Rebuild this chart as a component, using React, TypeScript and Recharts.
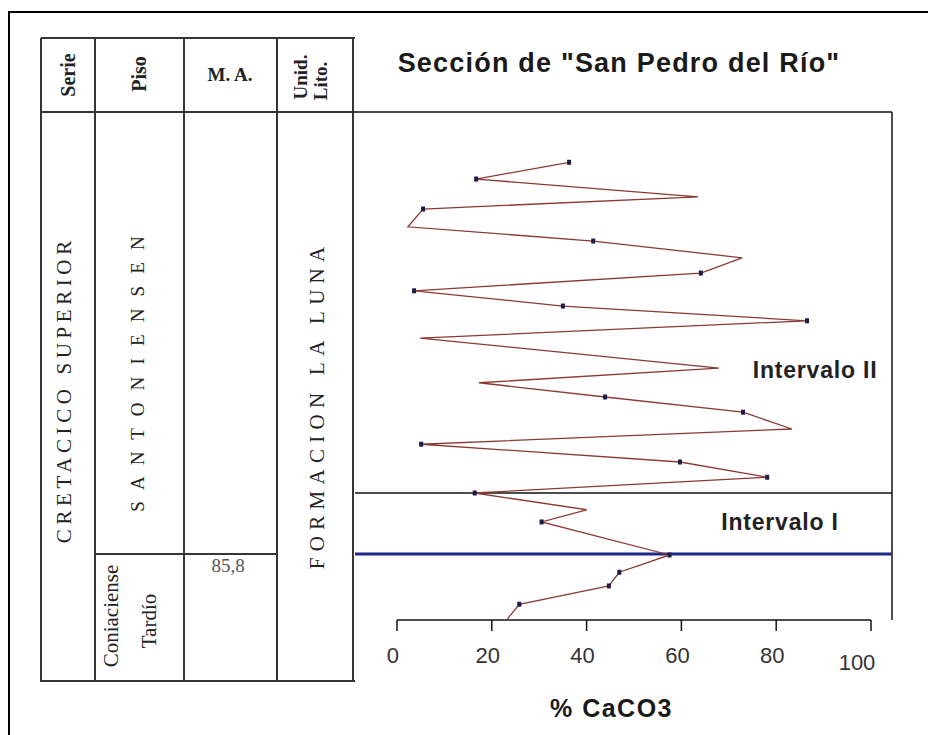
import React from 'react';
import { LineChart, Line, XAxis, YAxis, ReferenceLine, ReferenceDot, Label } from 'recharts';

// nivel estratigráfico (0 = base de la sección, 100 = tope del recuadro)
const nivel = [90.1, 86.8, 83.3, 80.9, 77.4, 74.6, 71.3, 68.3, 64.8, 61.8, 58.9, 55.5, 49.6, 46.7,
    43.9, 40.9, 37.6, 34.6, 31.1, 28.1, 25.0, 21.7, 19.3, 12.8, 9.4, 6.7, 3.1, 0.2];
// % CaCO3 de cada muestra
const caco3 = [36.3, 16.7, 63.5, 5.5, 2.3, 41.4, 72.8, 64.1, 3.6, 35.0, 86.5, 4.9, 67.9, 17.3,
    43.9, 73.0, 83.3, 5.1, 59.7, 78.1, 16.4, 40.0, 30.5, 57.5, 46.9, 44.7, 25.8, 23.3];
// muestras con marcador
const marca = [true, true, false, true, false, true, false, true, true, true, true, false, false, false,
    true, true, false, true, true, true, true, false, true, true, true, true, true, false];

const ticksX = [0, 20, 40, 60, 80, 100];
const limiteIntervalos = 25;
const limiteConiaciense = 13;

const datos = nivel.map((n, i) => ({ nivel: n, caco3: caco3[i], marca: marca[i] }));

const SANS = '"Liberation Sans", Arial, sans-serif';
const SERIF = '"Liberation Serif", "Times New Roman", serif';
const LINEA = '#353535';

function Rot({ cx, cy, ls = 0, style, children }: any) {
    return (
        <div style={{
            position: 'absolute', left: cx, top: cy, whiteSpace: 'nowrap', lineHeight: 1,
            transform: 'translate(-50%,-50%) rotate(-90deg)', fontFamily: SERIF, color: '#222',
            letterSpacing: ls, paddingLeft: ls, ...style
        }}>
            {children}
        </div>
    );
}

function Linea({ x, y, w, h, color = LINEA }: any) {
    return <div style={{ position: 'absolute', left: x, top: y, width: w, height: h, background: color }} />;
}

function TickX(props: any) {
    const { x, y, payload } = props;
    const es100 = payload.value === 100;
    return (
        <text x={x + (es100 ? -14 : -4)} y={y + (es100 ? 37 : 30)} textAnchor="middle"
            fontFamily={SANS} fontSize={22} fill="#333">
            {payload.value}
        </text>
    );
}

function Marcador(props: any) {
    const { cx, cy, payload, index } = props;
    if (!payload.marca) return <g key={'m' + index} />;
    return <rect key={'m' + index} x={cx - 2} y={cy - 2.5} width={4} height={5} fill="#1c1c4a" />;
}

export default function App() {
    return (
        <div style={{ position: 'absolute', left: 0, top: 0, width: 928, height: 735, background: '#fff', overflow: 'hidden' }}>
            {/* marco exterior */}
            <div style={{ position: 'absolute', left: 8, top: 11, width: 960, height: 760, borderLeft: '2.5px solid #000', borderTop: '2.5px solid #000' }} />

            {/* columna estratigráfica */}
            {[41, 95, 184, 277, 353].map(x => <Linea key={x} x={x - 1} y={38} w={2} h={644} />)}
            <Linea x={41} y={37} w={314} h={2} />
            <Linea x={41} y={111} w={314} h={2} />
            <Linea x={95} y={553} w={183} h={2} />
            <Linea x={41} y={680} w={314} h={2} />

            <Rot cx={68} cy={75} style={{ fontSize: 20, fontWeight: 'bold' }}>Serie</Rot>
            <Rot cx={139} cy={74} style={{ fontSize: 20, fontWeight: 'bold' }}>Piso</Rot>
            <div style={{ position: 'absolute', left: 230, top: 75, transform: 'translate(-50%,-50%)', fontFamily: SERIF, fontWeight: 'bold', fontSize: 19, whiteSpace: 'nowrap', color: '#222' }}>M. A.</div>
            <Rot cx={300} cy={77} style={{ fontSize: 19, fontWeight: 'bold' }}>Unid.</Rot>
            <Rot cx={320} cy={81} style={{ fontSize: 19, fontWeight: 'bold' }}>Lito.</Rot>

            <Rot cx={64} cy={392} ls={4.6} style={{ fontSize: 21 }}>CRETACICO SUPERIOR</Rot>
            <Rot cx={137} cy={374} ls={3.7} style={{ fontSize: 19 }}>S A N T O N I E N S E N</Rot>
            <Rot cx={317} cy={408} ls={6.3} style={{ fontSize: 21 }}>FORMACION LA LUNA</Rot>
            <Rot cx={111} cy={616} style={{ fontSize: 21 }}>Coniaciense</Rot>
            <Rot cx={149} cy={621} style={{ fontSize: 21 }}>Tardío</Rot>
            <div style={{ position: 'absolute', left: 228, top: 566, transform: 'translate(-50%,-50%)', fontFamily: SERIF, fontSize: 19, color: '#555' }}>85,8</div>

            <div style={{ position: 'absolute', left: 619, top: 50, transform: 'translateX(-50%)', fontFamily: SANS, fontWeight: 'bold', fontSize: 27, lineHeight: '27px', letterSpacing: 1.2, whiteSpace: 'nowrap', color: '#1a1a1a' }}>
                Sección de "San Pedro del Río"
            </div>

            <div style={{ position: 'absolute', left: 0, top: 0 }}>
                <LineChart width={928} height={735} data={datos} layout="vertical"
                    margin={{ top: 112, right: 36, bottom: 15, left: 355 }}>
                    <XAxis type="number" domain={[-8.86, 104.43]} ticks={ticksX} interval={0}
                        axisLine={false} tickLine={{ stroke: '#111', strokeWidth: 1.5 }} tickSize={11}
                        tickMargin={2} height={100} tick={<TickX />}>
                        <Label content={({ viewBox }: any) => (
                            <text x={viewBox.x + viewBox.width / 2 - 12} y={viewBox.y + 97} textAnchor="middle"
                                fontFamily={SANS} fontWeight="bold" fontSize={25} letterSpacing={1.5} fill="#1a1a1a">
                                % CaCO3
                            </text>
                        )} />
                    </XAxis>
                    <YAxis type="number" dataKey="nivel" domain={[0, 100]} reversed hide />

                    <ReferenceLine y={100} stroke="#111" strokeWidth={1.5} />
                    <ReferenceLine x={104.43} stroke="#111" strokeWidth={1.5} />
                    <ReferenceLine y={limiteIntervalos} stroke="#111" strokeWidth={1.5} />
                    <ReferenceLine y={limiteConiaciense} stroke="#1f2a8a" strokeWidth={3} />
                    <ReferenceLine segment={[{ x: 0, y: 0 }, { x: 100, y: 0 }]} stroke="#111" strokeWidth={1.5} />

                    <ReferenceDot x={88.2} y={49.2} r={1} fill="none" stroke="none"
                        label={{ value: 'Intervalo II', position: 'center', fontFamily: SANS, fontWeight: 'bold', fontSize: 23, fill: '#222', letterSpacing: 0.8 }} />
                    <ReferenceDot x={80.8} y={19.3} r={1} fill="none" stroke="none"
                        label={{ value: 'Intervalo I', position: 'center', fontFamily: SANS, fontWeight: 'bold', fontSize: 23, fill: '#222', letterSpacing: 0.8 }} />

                    <Line dataKey="caco3" stroke="#8b3a33" strokeWidth={1.3} dot={<Marcador />}
                        activeDot={false} isAnimationActive={false} />
                </LineChart>
            </div>
        </div>
    );
}
